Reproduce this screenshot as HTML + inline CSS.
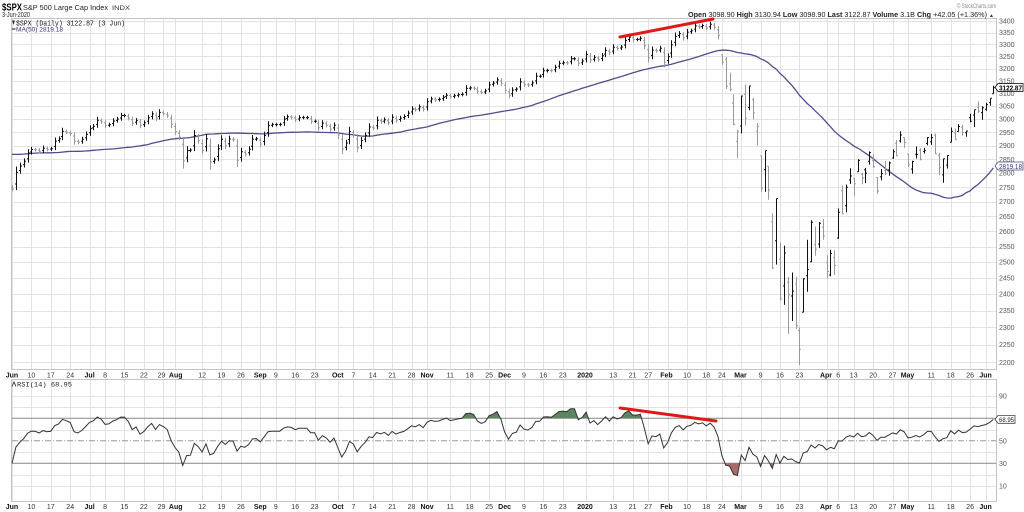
<!DOCTYPE html>
<html><head><meta charset="utf-8">
<style>
html,body{margin:0;padding:0;background:#fff;}
svg{display:block;}
text{font-family:"Liberation Sans",sans-serif;}
.mono{font-family:"Liberation Mono",monospace;}
.xl{font-size:7px;fill:#333;text-anchor:middle;}
.xb{font-size:7px;fill:#111;text-anchor:middle;font-weight:bold;}
.yl{font-size:7px;fill:#555;}
</style></head><body>
<svg id="c" width="1024" height="512" viewBox="0 0 1024 512" xmlns="http://www.w3.org/2000/svg">
<rect width="1024" height="512" fill="#fff"/>
<defs>
<clipPath id="cpHi"><rect x="11" y="379" width="986" height="39.25"/></clipPath>
<clipPath id="cpLo"><rect x="11" y="463.25" width="986" height="40"/></clipPath>
</defs>
<g id="grid" stroke="#e3e3e3" stroke-width="1" fill="none"></g>
<rect x="11.5" y="18.5" width="985" height="351" fill="none" stroke="#c4c4c4"/>
<rect x="11.5" y="379.5" width="985" height="122" fill="none" stroke="#c4c4c4"/>
<g id="rsiref"></g>
<g id="fills"></g>
<path id="ma" fill="none" stroke="#4d4f8c" stroke-width="1.3"/>
<g id="bars" stroke-width="1" fill="none"></g>
<path id="rsi" fill="none" stroke="#333" stroke-width="1"/>

<!-- red trend lines -->
<line x1="620" y1="37" x2="713" y2="19" stroke="#e01818" stroke-width="3" stroke-linecap="round"/>
<line x1="620" y1="408" x2="716" y2="421" stroke="#e01818" stroke-width="3" stroke-linecap="round"/>

<!-- header -->
<text x="2" y="10.5" font-size="10" font-weight="bold" textLength="20" lengthAdjust="spacingAndGlyphs">$SPX</text>
<text x="23" y="10" font-size="7.5" fill="#222" textLength="85" lengthAdjust="spacingAndGlyphs">S&amp;P 500 Large Cap Index</text>
<text x="112" y="10" font-size="6" fill="#333" textLength="18" lengthAdjust="spacingAndGlyphs">INDX</text>
<text x="2" y="17" font-size="7" fill="#222" textLength="28" lengthAdjust="spacingAndGlyphs">3-Jun-2020</text>
<text x="957" y="8" font-size="6" fill="#888" textLength="39" lengthAdjust="spacingAndGlyphs">© StockCharts.com</text>
<text x="688" y="17" font-size="7.5" fill="#222" textLength="299" lengthAdjust="spacingAndGlyphs"><tspan font-weight="bold">Open</tspan> 3098.90 <tspan font-weight="bold">High</tspan> 3130.94 <tspan font-weight="bold">Low</tspan> 3098.90 <tspan font-weight="bold">Last</tspan> 3122.87 <tspan font-weight="bold">Volume</tspan> 3.1B <tspan font-weight="bold">Chg</tspan> +42.05 (+1.36%)</text>
<text x="989" y="17" font-size="5" fill="#333">▲</text>

<!-- legends -->
<path d="M12,20.5 L15,20.5 L13.5,25 Z" fill="#333"/>
<text class="mono" x="16" y="25.5" font-size="7" fill="#111" textLength="109" lengthAdjust="spacingAndGlyphs">$SPX (Daily) 3122.87 (3 Jun)</text>
<line x1="12" y1="29" x2="15.5" y2="29" stroke="#33337a" stroke-width="1.2"/>
<text x="16" y="31.5" font-size="6" fill="#33337a" textLength="47" lengthAdjust="spacingAndGlyphs">MA(50) 2819.18</text>
<path d="M12,386.5 L14,382 L16,386.5" fill="none" stroke="#333" stroke-width="0.9"/>
<text class="mono" x="17" y="386.5" font-size="6.5" fill="#222" textLength="55" lengthAdjust="spacingAndGlyphs">RSI(14) 68.95</text>

<!-- price y labels -->
<g class="yl">
<text class="yl" x="999" y="23.5">3400</text>
<text class="yl" x="999" y="35.1">3350</text>
<text class="yl" x="999" y="46.9">3300</text>
<text class="yl" x="999" y="58.9">3250</text>
<text class="yl" x="999" y="71">3200</text>
<text class="yl" x="999" y="83.4">3150</text>
<text class="yl" x="999" y="95.9">3100</text>
<text class="yl" x="999" y="108.7">3050</text>
<text class="yl" x="999" y="121.6">3000</text>
<text class="yl" x="999" y="134.8">2950</text>
<text class="yl" x="999" y="148.2">2900</text>
<text class="yl" x="999" y="161.8">2850</text>
<text class="yl" x="999" y="175.7">2800</text>
<text class="yl" x="999" y="189.8">2750</text>
<text class="yl" x="999" y="204.2">2700</text>
<text class="yl" x="999" y="218.9">2650</text>
<text class="yl" x="999" y="233.8">2600</text>
<text class="yl" x="999" y="249">2550</text>
<text class="yl" x="999" y="264.6">2500</text>
<text class="yl" x="999" y="280.4">2450</text>
<text class="yl" x="999" y="296.6">2400</text>
<text class="yl" x="999" y="313.1">2350</text>
<text class="yl" x="999" y="329.9">2300</text>
<text class="yl" x="999" y="347.2">2250</text>
<text class="yl" x="999" y="364.8">2200</text>
<text class="yl" x="999" y="398.3">90</text>
<text class="yl" x="999" y="443.3">50</text>
<text class="yl" x="999" y="465.8">30</text>
<text class="yl" x="999" y="488.3">10</text>
</g>

<!-- value boxes -->
<path d="M995,87.5 L998,83.5 L1023,83.5 L1023,91.5 L998,91.5 Z" fill="#fff" stroke="#000" stroke-width="0.8"/>
<text x="999" y="90.3" font-size="7" font-weight="bold" fill="#000" textLength="23" lengthAdjust="spacingAndGlyphs">3122.87</text>
<path d="M995,166 L998,162 L1023,162 L1023,170 L998,170 Z" fill="#fff" stroke="#4d4f8c" stroke-width="0.8"/>
<text x="999" y="168.8" font-size="7" fill="#33337a" textLength="23" lengthAdjust="spacingAndGlyphs">2819.18</text>
<path d="M995,419.4 L998,415.5 L1015,415.5 L1015,423.3 L998,423.3 Z" fill="#fff" stroke="#444" stroke-width="0.8"/>
<text x="999" y="422.1" font-size="6.5" fill="#222" textLength="15" lengthAdjust="spacingAndGlyphs">68.95</text>

<!-- x labels row 1 -->
<g>
<text class="xb" x="12" y="377.5">Jun</text><text class="xl" x="31.4" y="377.5">10</text><text class="xl" x="50.8" y="377.5">17</text><text class="xl" x="70.2" y="377.5">24</text>
<text class="xb" x="89.6" y="377.5">Jul</text><text class="xl" x="105.1" y="377.5">8</text><text class="xl" x="124.5" y="377.5">15</text><text class="xl" x="143.9" y="377.5">22</text><text class="xl" x="161.5" y="377.5">29</text>
<text class="xb" x="175.7" y="377.5">Aug</text><text class="xl" x="202.1" y="377.5">12</text><text class="xl" x="221.5" y="377.5">19</text><text class="xl" x="240.9" y="377.5">26</text>
<text class="xb" x="260.3" y="377.5">Sep</text><text class="xl" x="275.8" y="377.5">9</text><text class="xl" x="295.2" y="377.5">16</text><text class="xl" x="314.6" y="377.5">23</text>
<text class="xb" x="337.8" y="377.5">Oct</text><text class="xl" x="353.4" y="377.5">7</text><text class="xl" x="372.7" y="377.5">14</text><text class="xl" x="392.1" y="377.5">21</text><text class="xl" x="411.5" y="377.5">28</text>
<text class="xb" x="427.1" y="377.5">Nov</text><text class="xl" x="450.3" y="377.5">11</text><text class="xl" x="469.7" y="377.5">18</text><text class="xl" x="489.1" y="377.5">25</text>
<text class="xb" x="504.6" y="377.5">Dec</text><text class="xl" x="524" y="377.5">9</text><text class="xl" x="543.4" y="377.5">16</text><text class="xl" x="562.8" y="377.5">23</text>
<text class="xb" x="585" y="377.5">2020</text><text class="xl" x="613.2" y="377.5">13</text><text class="xl" x="632.6" y="377.5">21</text><text class="xl" x="648.2" y="377.5">27</text>
<text class="xb" x="666.5" y="377.5">Feb</text><text class="xl" x="687" y="377.5">10</text><text class="xl" x="706.3" y="377.5">18</text><text class="xl" x="721.9" y="377.5">24</text>
<text class="xb" x="740.5" y="377.5">Mar</text><text class="xl" x="760.6" y="377.5">9</text><text class="xl" x="780" y="377.5">16</text><text class="xl" x="799.4" y="377.5">23</text>
<text class="xb" x="826" y="377.5">Apr</text><text class="xl" x="838.2" y="377.5">6</text><text class="xl" x="853.7" y="377.5">13</text><text class="xl" x="873.1" y="377.5">20</text><text class="xl" x="892.5" y="377.5">27</text>
<text class="xb" x="907.5" y="377.5">May</text><text class="xl" x="931.3" y="377.5">11</text><text class="xl" x="950.7" y="377.5">18</text><text class="xl" x="970.1" y="377.5">26</text>
<text class="xb" x="985.6" y="377.5">Jun</text>
</g>
<!-- x labels row 2 -->
<g>
<text class="xb" x="12" y="509">Jun</text><text class="xl" x="31.4" y="509">10</text><text class="xl" x="50.8" y="509">17</text><text class="xl" x="70.2" y="509">24</text>
<text class="xb" x="89.6" y="509">Jul</text><text class="xl" x="105.1" y="509">8</text><text class="xl" x="124.5" y="509">15</text><text class="xl" x="143.9" y="509">22</text><text class="xl" x="161.5" y="509">29</text>
<text class="xb" x="175.7" y="509">Aug</text><text class="xl" x="202.1" y="509">12</text><text class="xl" x="221.5" y="509">19</text><text class="xl" x="240.9" y="509">26</text>
<text class="xb" x="260.3" y="509">Sep</text><text class="xl" x="275.8" y="509">9</text><text class="xl" x="295.2" y="509">16</text><text class="xl" x="314.6" y="509">23</text>
<text class="xb" x="337.8" y="509">Oct</text><text class="xl" x="353.4" y="509">7</text><text class="xl" x="372.7" y="509">14</text><text class="xl" x="392.1" y="509">21</text><text class="xl" x="411.5" y="509">28</text>
<text class="xb" x="427.1" y="509">Nov</text><text class="xl" x="450.3" y="509">11</text><text class="xl" x="469.7" y="509">18</text><text class="xl" x="489.1" y="509">25</text>
<text class="xb" x="504.6" y="509">Dec</text><text class="xl" x="524" y="509">9</text><text class="xl" x="543.4" y="509">16</text><text class="xl" x="562.8" y="509">23</text>
<text class="xb" x="585" y="509">2020</text><text class="xl" x="613.2" y="509">13</text><text class="xl" x="632.6" y="509">21</text><text class="xl" x="648.2" y="509">27</text>
<text class="xb" x="666.5" y="509">Feb</text><text class="xl" x="687" y="509">10</text><text class="xl" x="706.3" y="509">18</text><text class="xl" x="721.9" y="509">24</text>
<text class="xb" x="740.5" y="509">Mar</text><text class="xl" x="760.6" y="509">9</text><text class="xl" x="780" y="509">16</text><text class="xl" x="799.4" y="509">23</text>
<text class="xb" x="826" y="509">Apr</text><text class="xl" x="838.2" y="509">6</text><text class="xl" x="853.7" y="509">13</text><text class="xl" x="873.1" y="509">20</text><text class="xl" x="892.5" y="509">27</text>
<text class="xb" x="907.5" y="509">May</text><text class="xl" x="931.3" y="509">11</text><text class="xl" x="950.7" y="509">18</text><text class="xl" x="970.1" y="509">26</text>
<text class="xb" x="985.6" y="509">Jun</text>
</g>
</svg>
<script>
(function(){
var pre=[2800,2798,2818,2806,2815,2834,2867,2867,2873,2880,2893,2895,2878,2888,2888,2907,2905,2907,2900,2905,2908,2934,2927,2926,2940,2943,2946,2924,2918,2946,2932,2884,2880,2871,2881,2812,2834,2851,2876,2860,2840,2864,2856,2823,2826,2802,2783,2789,2752];
var cl=[2744,2803,2826,2843,2873,2886,2885,2879,2891,2887,2889,2917,2926,2954,2950,2945,2917,2913,2924,2942,
2964,2973,2996,2990,2976,2979,2993,3000,3014,3014,3004,2985,2995,2976,2986,3005,3020,3004,3026,3021,3013,2980,
2953,2932,2844,2882,2884,2938,2919,2883,2926,2840,2848,2889,2924,2900,2925,2922,2847,2878,2869,2887,2924,2926,
2906,2938,2976,2979,2979,2980,3000,3009,3007,2998,3006,3006,3006,2992,2992,2967,2985,2977,2962,2977,
2940,2888,2910,2953,2939,2893,2919,2938,2970,2966,2996,2990,2998,2986,3007,2996,3004,3010,3023,3039,3036,3047,3038,
3067,3078,3075,3077,3085,3093,3087,3091,3095,3097,3120,3122,3120,3108,3104,3110,3134,3141,3154,3141,
3113,3093,3113,3117,3146,3135,3133,3142,3169,3169,3191,3192,3191,3205,3221,3224,3223,3240,3240,3221,3231,
3258,3235,3246,3237,3253,3275,3265,3288,3283,3289,3317,3330,3321,3321,3326,3295,3244,3276,3273,3284,3226,
3249,3298,3334,3346,3328,3352,3358,3379,3374,3380,3370,3386,3373,3338,3226,3128,3116,2979,2954,
3090,3003,3130,3024,2972,2747,2882,2741,2481,2711,2386,2529,2398,2409,2305,2237,2447,2476,2630,2541,2627,2585,
2470,2527,2489,2664,2659,2750,2790,2762,2846,2783,2800,2875,2823,2737,2799,2798,2837,2878,2863,2940,2912,
2831,2842,2868,2849,2882,2930,2930,2870,2820,2852,2864,2954,2922,2972,2949,2955,2992,3036,3030,3044,
3056,3081,3123];
var ov=[[3257,3259,3215],[3238,3247,3118],[3139,3183,3108],[3062,3097,2977],[2916,2959,2855],
[2974,3091,2946],[3096,3136,2976],[3045,3130,3034],[3075,3083,2999],[2954,2985,2901],
[2863,2863,2734],[2813,2882,2734],[2825,2825,2707],[2631,2660,2478],[2569,2711,2492],
[2509,2563,2381],[2425,2553,2367],[2437,2453,2281],[2394,2467,2319],[2431,2453,2295],
[2291,2300,2192],[2345,2449,2345],[2457,2572,2407],[2501,2637,2500],[2556,2616,2520],
[2558,2631,2545],[2614,2641,2572],
[2499,2522,2448],[2459,2539,2455],[2514,2538,2459],
[2578,2677,2575],[2738,2756,2657],[2686,2760,2664],[2776,2818,2762],
[2782,2782,2721],[2805,2851,2805],[2796,2801,2761],[2812,2819,2765],[2843,2879,2831],
[2846,2868,2820],[2785,2785,2727],[2787,2815,2775],[2810,2844,2794],[2812,2842,2791],
[2855,2887,2852],[2909,2921,2861],[2918,2954,2912],[2930,2931,2892],
[2869,2869,2822],
[2815,2845,2798],[2869,2897,2853],[2883,2891,2847],[2879,2892,2871],[2908,2932,2902],
[2915,2944,2903],[2940,2945,2869],[2865,2874,2793],[2794,2852,2766],[2829,2865,2817],
[2913,2968,2913],[2948,2964,2922],[2953,2981,2953],[2969,2978,2938],[2948,2956,2933],
[3005,3021,2988],[3016,3036,2970],[3046,3068,3024],[3025,3050,2998],
[3038,3063,3032],[3064,3081,3052],[3099,3131,3099]];
var N=cl.length;
var all=pre.concat(cl);
function X(i){return 12+3.879*i;}
function YP(p){return 21+784*Math.log(3400/p);}
function YR(r){return 497-1.125*r;}
function f(v){return Math.round(v*10)/10;}
var NS="http://www.w3.org/2000/svg";
// grid
var gi=[0,5,10,15,20,24,29,34,39,42,49,54,59,64,68,73,78,84,88,93,98,103,107,113,118,123,127,132,137,142,148,155,160,164,169,174,179,183,188,193,198,203,210,213,217,222,227,231,237,242,247,251];
var g='';
for(var k=0;k<gi.length;k++){var gx=Math.round(X(gi[k]))+0.5;g+='M'+gx+',19V370M'+gx+',380V502';}
for(var p=2200;p<=3400;p+=50){var gy=Math.round(YP(p))+0.5;g+='M12,'+gy+'H996';}
[10,20,40,60,80,90].forEach(function(r){var gy=Math.round(YR(r))+0.5;g+='M12,'+gy+'H996';});
var gp=document.createElementNS(NS,'path');gp.setAttribute('d',g);document.getElementById('grid').appendChild(gp);
// rsi reference lines
var rr=document.getElementById('rsiref');
rr.innerHTML='<path d="M12,'+f(YR(70))+'H996M12,'+f(YR(30))+'H996" stroke="#8a8a8a" stroke-width="1" fill="none"/>'+
'<path d="M12,'+f(YR(50))+'H996" stroke="#999" stroke-width="1" stroke-dasharray="6,2,1,2" fill="none"/>';
// bars
var up='',dn='';
for(var i=0;i<N;i++){
  var c=cl[i],pc=i>0?cl[i-1]:pre[pre.length-1],o,h,l;
  if(i>=183){o=ov[i-183][0];h=ov[i-183][1];l=ov[i-183][2];}
  else{var r=Math.abs(c-pc)/pc,v=0.0022+0.25*r;o=pc+0.3*(c-pc);h=Math.max(o,c)+c*v;l=Math.min(o,c)-c*v;}
  var x=Math.round(X(i))+0.5;
  var s='M'+x+','+f(YP(h))+'V'+f(YP(l))+'M'+(x-1.5)+','+f(YP(o))+'H'+x+'M'+x+','+f(YP(c))+'H'+(x+1.5);
  if(c>=pc)up+=s;else dn+=s;
}
document.getElementById('bars').innerHTML='<path d="'+dn+'" stroke="#9a9a9a"/><path d="'+up+'" stroke="#111"/>';
// MA50
var m='';
for(var i=0;i<N;i++){var s=0;for(var j=i;j<i+50;j++)s+=all[j];var mv=s/50;m+=(i?'L':'M')+f(X(i))+','+f(YP(mv));}
document.getElementById('ma').setAttribute('d',m);
// RSI
var ag=0,al=0,rs=[];
for(var k=1;k<=14;k++){var d=all[k]-all[k-1];if(d>0)ag+=d;else al-=d;}
ag/=14;al/=14;
var rsiAll=[];rsiAll[14]=100-100/(1+ag/Math.max(al,1e-9));
for(var k=15;k<all.length;k++){var d=all[k]-all[k-1];var gg=d>0?d:0,ll=d<0?-d:0;ag=(ag*13+gg)/14;al=(al*13+ll)/14;rsiAll[k]=100-100/(1+ag/Math.max(al,1e-9));}
var pts=[];
for(var i=0;i<N;i++){pts.push(f(X(i))+','+f(YR(rsiAll[i+pre.length])));}
var rp='M'+pts.join('L');
document.getElementById('rsi').setAttribute('d',rp);
var x0=f(X(0)),x1=f(X(N-1));
var hi='M'+x0+','+f(YR(70))+'L'+pts.join('L')+'L'+x1+','+f(YR(70))+'Z';
var lo='M'+x0+','+f(YR(30))+'L'+pts.join('L')+'L'+x1+','+f(YR(30))+'Z';
document.getElementById('fills').innerHTML='<path d="'+hi+'" fill="#5f855f" clip-path="url(#cpHi)"/><path d="'+lo+'" fill="#a86a6a" clip-path="url(#cpLo)"/>';
})();
</script>
</body></html>
